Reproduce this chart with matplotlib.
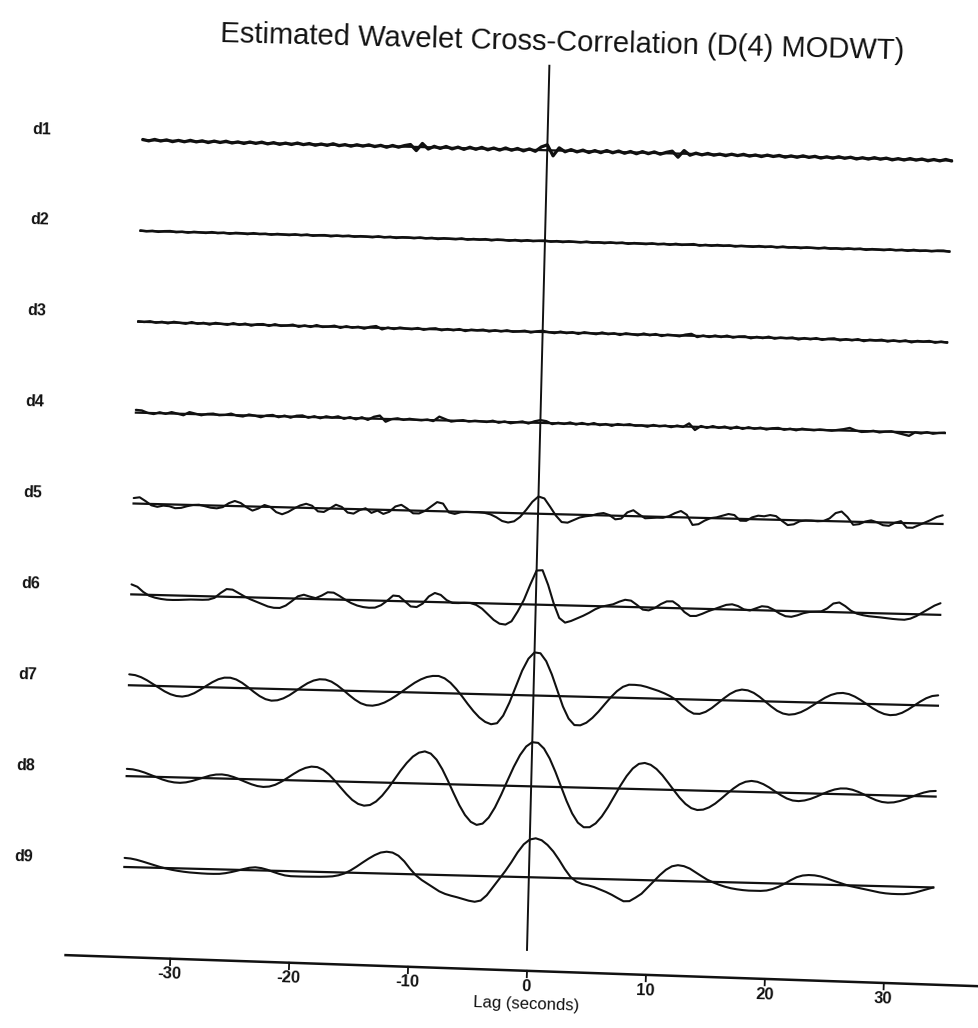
import numpy as np
import matplotlib
matplotlib.use("Agg")
import matplotlib.pyplot as plt
from matplotlib.transforms import Affine2D

# ---------------- data ----------------
levels = ["d1", "d2", "d3", "d4", "d5", "d6", "d7", "d8", "d9"]
lags = np.arange(-34.0, 34.01, 0.5)          # lag grid, seconds

d1 = [0.006, -0.008, 0.010, -0.006, 0.008, -0.010, 0.006, -0.008, 0.010, -0.006,
      0.008, -0.010, 0.008, -0.006, 0.010, -0.008, 0.006, -0.010, 0.008, -0.006,
      0.010, -0.008, 0.008, -0.010, 0.006, -0.008, 0.010, -0.006, 0.008, -0.010,
      0.006, -0.008, 0.012, -0.008, 0.006, -0.010, 0.008, -0.006, 0.010, -0.008,
      0.008, -0.012, 0.010, -0.008, 0.012, 0.025, -0.040, 0.040, -0.020, 0.012,
      -0.010, 0.014, -0.012, 0.010, -0.014, 0.012, -0.010, 0.014, -0.012, 0.010,
      -0.012, 0.014, -0.010, 0.012, -0.014, 0.010, -0.015, 0.035, 0.060, -0.060,
      0.030, -0.012, 0.014, -0.010, 0.012, -0.014, 0.010, -0.012, 0.014, -0.010,
      0.012, -0.012, 0.010, -0.014, 0.012, -0.010, 0.012, -0.012, 0.010, 0.025,
      -0.040, 0.035, -0.015, 0.010, -0.008, 0.010, -0.008, 0.006, -0.010, 0.008,
      -0.006, 0.010, -0.008, 0.006, -0.010, 0.008, -0.006, 0.008, -0.010, 0.006,
      -0.008, 0.010, -0.006, 0.008, -0.010, 0.006, -0.008, 0.010, -0.006, 0.008,
      -0.010, 0.006, -0.008, 0.010, -0.006, 0.008, -0.010, 0.006, -0.008, 0.010,
      -0.006, 0.008, -0.010, 0.006, -0.008, 0.010, -0.006]

d2 = [0.005, -0.003, 0.004, -0.005, 0.003, 0.006, -0.004, 0.002, -0.006, 0.004,
      0.000, -0.004, 0.006, -0.003, 0.003, -0.006, 0.004, 0.002, -0.005, 0.006,
      -0.002, 0.003, -0.005, 0.004, 0.000, -0.004, 0.005, -0.003, 0.006, -0.005,
      0.002, 0.004, -0.006, 0.003, -0.002, 0.005, -0.004, 0.003, 0.000, -0.005,
      0.006, -0.003, 0.004, -0.006, 0.003, 0.002, -0.004, 0.005, -0.003, 0.004,
      -0.006, 0.003, 0.000, -0.004, 0.006, -0.005, 0.003, -0.002, 0.005, -0.006,
      0.004, 0.002, -0.005, 0.004, -0.006, 0.005, -0.003, 0.003, 0.006, -0.004,
      0.003, -0.005, 0.004, 0.000, -0.004, 0.006, -0.003, 0.002, -0.005, 0.004,
      -0.002, 0.005, -0.006, 0.003, 0.000, -0.004, 0.005, -0.003, 0.004, -0.005,
      0.006, -0.003, 0.002, 0.008, -0.006, 0.003, -0.004, 0.005, -0.002, 0.004,
      -0.006, 0.003, 0.000, -0.004, 0.005, -0.003, 0.004, -0.005, 0.006, -0.002,
      0.003, -0.005, 0.004, 0.000, -0.004, 0.006, -0.003, 0.002, -0.005, 0.004,
      -0.002, 0.005, -0.006, 0.003, 0.000, -0.004, 0.005, -0.003, 0.004, -0.005,
      0.006, -0.003, 0.002, -0.004, 0.005, 0.006, -0.004]

d3 = [0.005, 0.000, 0.008, -0.005, 0.005, -0.008, 0.008, 0.000, -0.008, 0.010,
      -0.005, 0.005, -0.010, 0.008, 0.000, -0.008, 0.010, -0.005, 0.008, -0.010,
      0.005, 0.008, -0.008, 0.010, -0.005, 0.000, 0.010, -0.010, 0.005, -0.008,
      0.012, -0.005, 0.000, 0.010, -0.010, 0.008, -0.005, 0.005, -0.012, 0.008,
      0.018, -0.015, 0.005, -0.008, 0.008, 0.000, -0.005, 0.008, -0.008, 0.005,
      0.010, -0.008, 0.005, -0.005, 0.008, -0.010, 0.005, 0.000, 0.008, -0.008,
      0.005, -0.005, 0.008, -0.005, 0.000, 0.008, -0.008, 0.005, 0.012, 0.000,
      -0.008, 0.008, -0.005, 0.005, -0.010, 0.008, 0.000, -0.008, 0.010, -0.005,
      0.005, -0.010, 0.008, 0.000, -0.008, 0.010, -0.005, 0.008, -0.010, 0.005,
      0.000, -0.008, 0.010, 0.020, -0.012, 0.005, -0.008, 0.008, -0.005, 0.010,
      -0.008, 0.005, 0.008, -0.010, 0.005, -0.005, 0.010, -0.008, 0.005, 0.000,
      0.008, -0.010, 0.005, -0.005, 0.008, -0.008, 0.005, 0.010, -0.008, 0.005,
      -0.005, 0.008, -0.010, 0.005, 0.000, 0.008, -0.008, 0.005, -0.005, 0.008,
      -0.010, 0.005, 0.000, 0.008, -0.008, 0.005, -0.005]

d4 = [0.030, 0.025, 0.000, -0.010, 0.010, -0.005, 0.015, 0.000, -0.015, 0.020,
      0.005, -0.010, 0.005, 0.010, -0.005, 0.000, 0.015, -0.005, -0.012, 0.010,
      0.000, -0.015, 0.005, 0.012, -0.010, 0.008, -0.012, 0.010, 0.015, -0.008,
      0.010, -0.010, 0.012, 0.000, 0.015, -0.010, 0.010, -0.012, 0.012, -0.015,
      0.020, 0.035, -0.030, 0.000, 0.010, -0.005, 0.008, 0.000, -0.005, 0.005,
      -0.010, 0.040, 0.015, -0.010, 0.000, 0.008, -0.005, 0.005, 0.000, -0.005,
      0.010, -0.010, 0.005, -0.012, 0.000, 0.010, -0.010, 0.015, 0.030, 0.020,
      -0.010, 0.005, -0.005, 0.012, -0.008, 0.010, -0.005, 0.012, -0.008, 0.005,
      -0.012, 0.008, 0.000, 0.010, -0.005, 0.000, -0.012, 0.008, -0.005, 0.005,
      -0.010, 0.008, -0.005, 0.035, -0.035, 0.010, -0.008, 0.012, -0.005, 0.010,
      -0.012, 0.012, -0.010, 0.010, -0.005, 0.008, -0.010, 0.005, 0.010, -0.008,
      0.005, -0.010, 0.008, 0.000, -0.005, 0.005, 0.000, -0.005, 0.005, 0.015,
      0.030, 0.005, -0.010, -0.005, 0.005, -0.010, 0.000, 0.005, -0.010, -0.025,
      -0.040, 0.000, -0.010, 0.005, -0.010, 0.000, 0.005]

d5 = [0.060, 0.070, 0.030, -0.015, -0.030, -0.015, -0.020, -0.040, -0.035, -0.015,
      0.000, 0.005, -0.010, -0.025, -0.030, -0.015, 0.030, 0.056, 0.035, -0.010,
      -0.045, -0.020, 0.020, 0.000, -0.055, -0.077, -0.050, -0.010, 0.025, 0.045,
      0.025, -0.035, -0.040, 0.000, 0.043, 0.020, -0.040, -0.050, -0.010, 0.012,
      -0.037, -0.010, -0.045, -0.020, 0.040, 0.060, 0.020, -0.030, -0.030, 0.000,
      0.050, 0.100, 0.085, -0.010, -0.025, -0.005, 0.000, 0.000, 0.000, -0.005,
      -0.020, -0.050, -0.090, -0.105, -0.090, -0.040, 0.040, 0.130, 0.190, 0.170,
      0.080, -0.015, -0.085, -0.090, -0.060, -0.030, -0.015, -0.005, 0.015, 0.026,
      0.005, -0.040, -0.030, 0.040, 0.065, 0.020, -0.020, -0.015, -0.010, -0.010,
      0.010, 0.045, 0.070, 0.030, -0.080, -0.070, -0.030, 0.000, 0.010, 0.030,
      0.050, 0.040, -0.020, -0.020, 0.020, 0.040, 0.035, 0.050, 0.040, -0.010,
      -0.055, -0.045, -0.010, 0.000, 0.000, -0.005, 0.000, 0.030, 0.090, 0.109,
      0.050, -0.034, -0.025, 0.005, 0.020, 0.000, -0.030, -0.035, 0.000, 0.020,
      -0.050, -0.050, -0.020, 0.010, 0.040, 0.075, 0.095]

d6 = [0.110, 0.085, 0.030, -0.010, -0.030, -0.042, -0.049, -0.050, -0.048, -0.044,
      -0.040, -0.040, -0.040, -0.036, -0.015, 0.040, 0.085, 0.080, 0.045, 0.010,
      -0.020, -0.045, -0.070, -0.095, -0.108, -0.108, -0.080, -0.030, 0.025, 0.044,
      0.025, 0.010, 0.040, 0.078, 0.075, 0.040, 0.000, -0.035, -0.060, -0.075,
      -0.081, -0.078, -0.050, 0.000, 0.060, 0.055, 0.000, -0.055, -0.060, -0.020,
      0.060, 0.100, 0.080, 0.025, -0.005, -0.005, 0.000, 0.000, -0.020, -0.060,
      -0.120, -0.180, -0.220, -0.228, -0.190, -0.080, 0.050, 0.220, 0.375, 0.380,
      0.220, 0.020, -0.140, -0.190, -0.170, -0.140, -0.110, -0.075, -0.035, -0.005,
      0.010, 0.025, 0.055, 0.078, 0.070, 0.025, -0.025, -0.032, -0.005, 0.040,
      0.072, 0.074, 0.030, -0.040, -0.082, -0.080, -0.055, -0.025, 0.000, 0.025,
      0.050, 0.058, 0.040, 0.005, -0.005, 0.020, 0.045, 0.040, 0.010, -0.030,
      -0.058, -0.063, -0.045, -0.020, -0.005, 0.000, 0.005, 0.040, 0.095, 0.108,
      0.070, 0.020, -0.010, -0.025, -0.035, -0.040, -0.045, -0.052, -0.058, -0.062,
      -0.064, -0.050, -0.020, 0.020, 0.060, 0.100, 0.128]

d7 = [0.120, 0.113, 0.092, 0.060, 0.021, -0.019, -0.057, -0.087, -0.105, -0.110,
      -0.097, -0.069, -0.029, 0.015, 0.057, 0.091, 0.110, 0.111, 0.093, 0.058,
      0.012, -0.038, -0.083, -0.115, -0.130, -0.124, -0.101, -0.065, -0.019, 0.029,
      0.072, 0.103, 0.119, 0.117, 0.096, 0.057, 0.008, -0.045, -0.094, -0.133,
      -0.154, -0.157, -0.144, -0.119, -0.082, -0.038, 0.011, 0.060, 0.107, 0.145,
      0.173, 0.187, 0.188, 0.164, 0.117, 0.050, -0.028, -0.112, -0.190, -0.257,
      -0.304, -0.328, -0.315, -0.230, -0.084, 0.093, 0.270, 0.403, 0.474, 0.466,
      0.381, 0.237, 0.062, -0.113, -0.244, -0.314, -0.315, -0.285, -0.230, -0.159,
      -0.078, 0.001, 0.070, 0.120, 0.145, 0.145, 0.140, 0.125, 0.105, 0.085,
      0.060, 0.030, -0.010, -0.070, -0.120, -0.155, -0.156, -0.132, -0.089, -0.035,
      0.021, 0.071, 0.107, 0.123, 0.116, 0.090, 0.048, -0.003, -0.055, -0.100,
      -0.129, -0.140, -0.132, -0.109, -0.074, -0.031, 0.014, 0.056, 0.089, 0.109,
      0.114, 0.103, 0.077, 0.041, -0.002, -0.044, -0.080, -0.106, -0.117, -0.111,
      -0.088, -0.051, -0.006, 0.040, 0.079, 0.105, 0.114]

d8 = [0.080, 0.076, 0.063, 0.044, 0.020, -0.004, -0.027, -0.045, -0.056, -0.059,
      -0.052, -0.036, -0.014, 0.009, 0.029, 0.042, 0.045, 0.037, 0.019, -0.005,
      -0.031, -0.055, -0.073, -0.081, -0.075, -0.054, -0.019, 0.024, 0.069, 0.110,
      0.140, 0.156, 0.152, 0.124, 0.073, 0.007, -0.066, -0.137, -0.199, -0.241,
      -0.259, -0.250, -0.210, -0.144, -0.059, 0.038, 0.136, 0.223, 0.294, 0.339,
      0.355, 0.332, 0.267, 0.164, 0.038, -0.097, -0.226, -0.333, -0.407, -0.439,
      -0.423, -0.355, -0.243, -0.100, 0.057, 0.210, 0.341, 0.437, 0.486, 0.480,
      0.419, 0.311, 0.169, 0.009, -0.149, -0.286, -0.386, -0.435, -0.433, -0.389,
      -0.311, -0.207, -0.087, 0.033, 0.140, 0.225, 0.277, 0.289, 0.270, 0.225,
      0.159, 0.079, -0.004, -0.084, -0.150, -0.195, -0.214, -0.208, -0.181, -0.138,
      -0.082, -0.023, 0.033, 0.080, 0.110, 0.121, 0.113, 0.089, 0.054, 0.012,
      -0.028, -0.062, -0.083, -0.088, -0.079, -0.060, -0.033, -0.002, 0.027, 0.050,
      0.063, 0.064, 0.052, 0.030, 0.002, -0.029, -0.056, -0.074, -0.080, -0.075,
      -0.059, -0.036, -0.009, 0.018, 0.041, 0.057, 0.062]

d9 = [0.100, 0.095, 0.083, 0.066, 0.047, 0.028, 0.010, -0.005, -0.018, -0.028,
      -0.036, -0.042, -0.046, -0.049, -0.051, -0.051, -0.049, -0.040, -0.026, -0.009,
      0.010, 0.026, 0.033, 0.026, 0.010, -0.012, -0.032, -0.048, -0.055, -0.056,
      -0.056, -0.055, -0.054, -0.053, -0.050, -0.045, -0.032, -0.010, 0.025, 0.068,
      0.115, 0.160, 0.200, 0.230, 0.241, 0.233, 0.200, 0.140, 0.060, -0.010,
      -0.060, -0.100, -0.140, -0.180, -0.207, -0.225, -0.240, -0.258, -0.275, -0.285,
      -0.270, -0.210, -0.120, -0.030, 0.060, 0.160, 0.270, 0.360, 0.415, 0.430,
      0.410, 0.360, 0.290, 0.200, 0.100, 0.015, -0.035, -0.060, -0.073, -0.090,
      -0.115, -0.140, -0.170, -0.205, -0.238, -0.235, -0.195, -0.150, -0.080, -0.010,
      0.060, 0.120, 0.160, 0.174, 0.165, 0.140, 0.100, 0.060, 0.022, -0.006,
      -0.030, -0.050, -0.065, -0.075, -0.082, -0.086, -0.086, -0.086, -0.080, -0.062,
      -0.035, 0.000, 0.040, 0.075, 0.095, 0.102, 0.100, 0.090, 0.072, 0.050,
      0.030, 0.010, -0.008, -0.020, -0.032, -0.045, -0.058, -0.070, -0.078, -0.082,
      -0.083, -0.082, -0.075, -0.060, -0.040, -0.020, 0.000]

tick_lags = [-30, -20, -10, 0, 10, 20, 30]
tick_labels = ["-30", "-20", "-10", "0", "10", "20", "30"]
title = "Estimated Wavelet Cross-Correlation (D(4) MODWT)"
xlabel = "Lag (seconds)"

series = [d1, d2, d3, d4, d5, d6, d7, d8, d9]
for s in series:
    assert len(s) == len(lags), len(s)

# ---------------- layout ----------------
W, H = 979, 1028
ink = "#111111"
fig = plt.figure(figsize=(W / 100, H / 100), dpi=100)
fig.patch.set_facecolor("white")
ax = fig.add_axes([0, 0, 1, 1])
ax.set_axis_off()

px_per_sec = 11.9      # horizontal scale
zero_px = 527          # x pixel of lag 0
row_px = 90.9          # spacing between rows (1 unit)
top_px = 150           # y pixel of the d1 baseline
ax.set_xlim(-zero_px / px_per_sec, (W - zero_px) / px_per_sec)
ax.set_ylim(-(H - top_px) / row_px, top_px / row_px)
ax.set_autoscale_on(False)

angle = -1.45          # the scanned page is slightly rotated clockwise
rot = Affine2D().rotate_deg_around(527, H - 950, angle)
T = ax.transData + rot
axis_angle = -1.95     # the lag axis sits at a slightly steeper angle
T_axis = ax.transData + Affine2D().rotate_deg_around(527, H - 971, axis_angle)

font = "Liberation Sans"
curve_lw = [2.3, 1.8, 1.8, 1.7, 1.5, 1.5, 1.5, 1.5, 1.5]

for k, (name, vals) in enumerate(zip(levels, series)):
    off = -k
    ax.plot(lags, off + np.asarray(vals), color=ink, lw=curve_lw[k], transform=T,
            clip_on=False, solid_joinstyle="round", solid_capstyle="round")
    ax.plot([lags[0], lags[-1]], [off, off], color=ink, lw=1.6, transform=T,
            clip_on=False)
    ax.text(-42.5, off + 0.09, name, transform=T, rotation=angle,
            rotation_mode="anchor", ha="center", va="center",
            fontsize=11.5, fontweight="bold", family=font, color=ink)

# vertical line at lag 0
ax.plot([0, 0], [0.93, -8.80], color=ink, lw=1.4, transform=T, clip_on=False)

# lag axis
y_axis = -9.03
ax.plot([-38.8, 41.0], [y_axis, y_axis], color=ink, lw=1.8, transform=T_axis,
        clip_on=False)
for t, lab in zip(tick_lags, tick_labels):
    ax.plot([t, t], [y_axis, y_axis - 0.07], color=ink, lw=1.3,
            transform=T_axis, clip_on=False)
    ax.text(t, y_axis - 0.17, lab, transform=T_axis, rotation=axis_angle,
            rotation_mode="anchor", ha="center", va="center",
            fontsize=12, fontweight="bold", family=font, color=ink)
ax.text(0, -9.40, xlabel, transform=T_axis, rotation=axis_angle,
        rotation_mode="anchor", ha="center", va="center", fontsize=12,
        family=font, color=ink)

# title
ax.text(1.0, 1.19, title, transform=T, rotation=angle, rotation_mode="anchor",
        ha="center", va="center", fontsize=21, family=font, color=ink)

fig.savefig("out.png", dpi=100, facecolor="white")
